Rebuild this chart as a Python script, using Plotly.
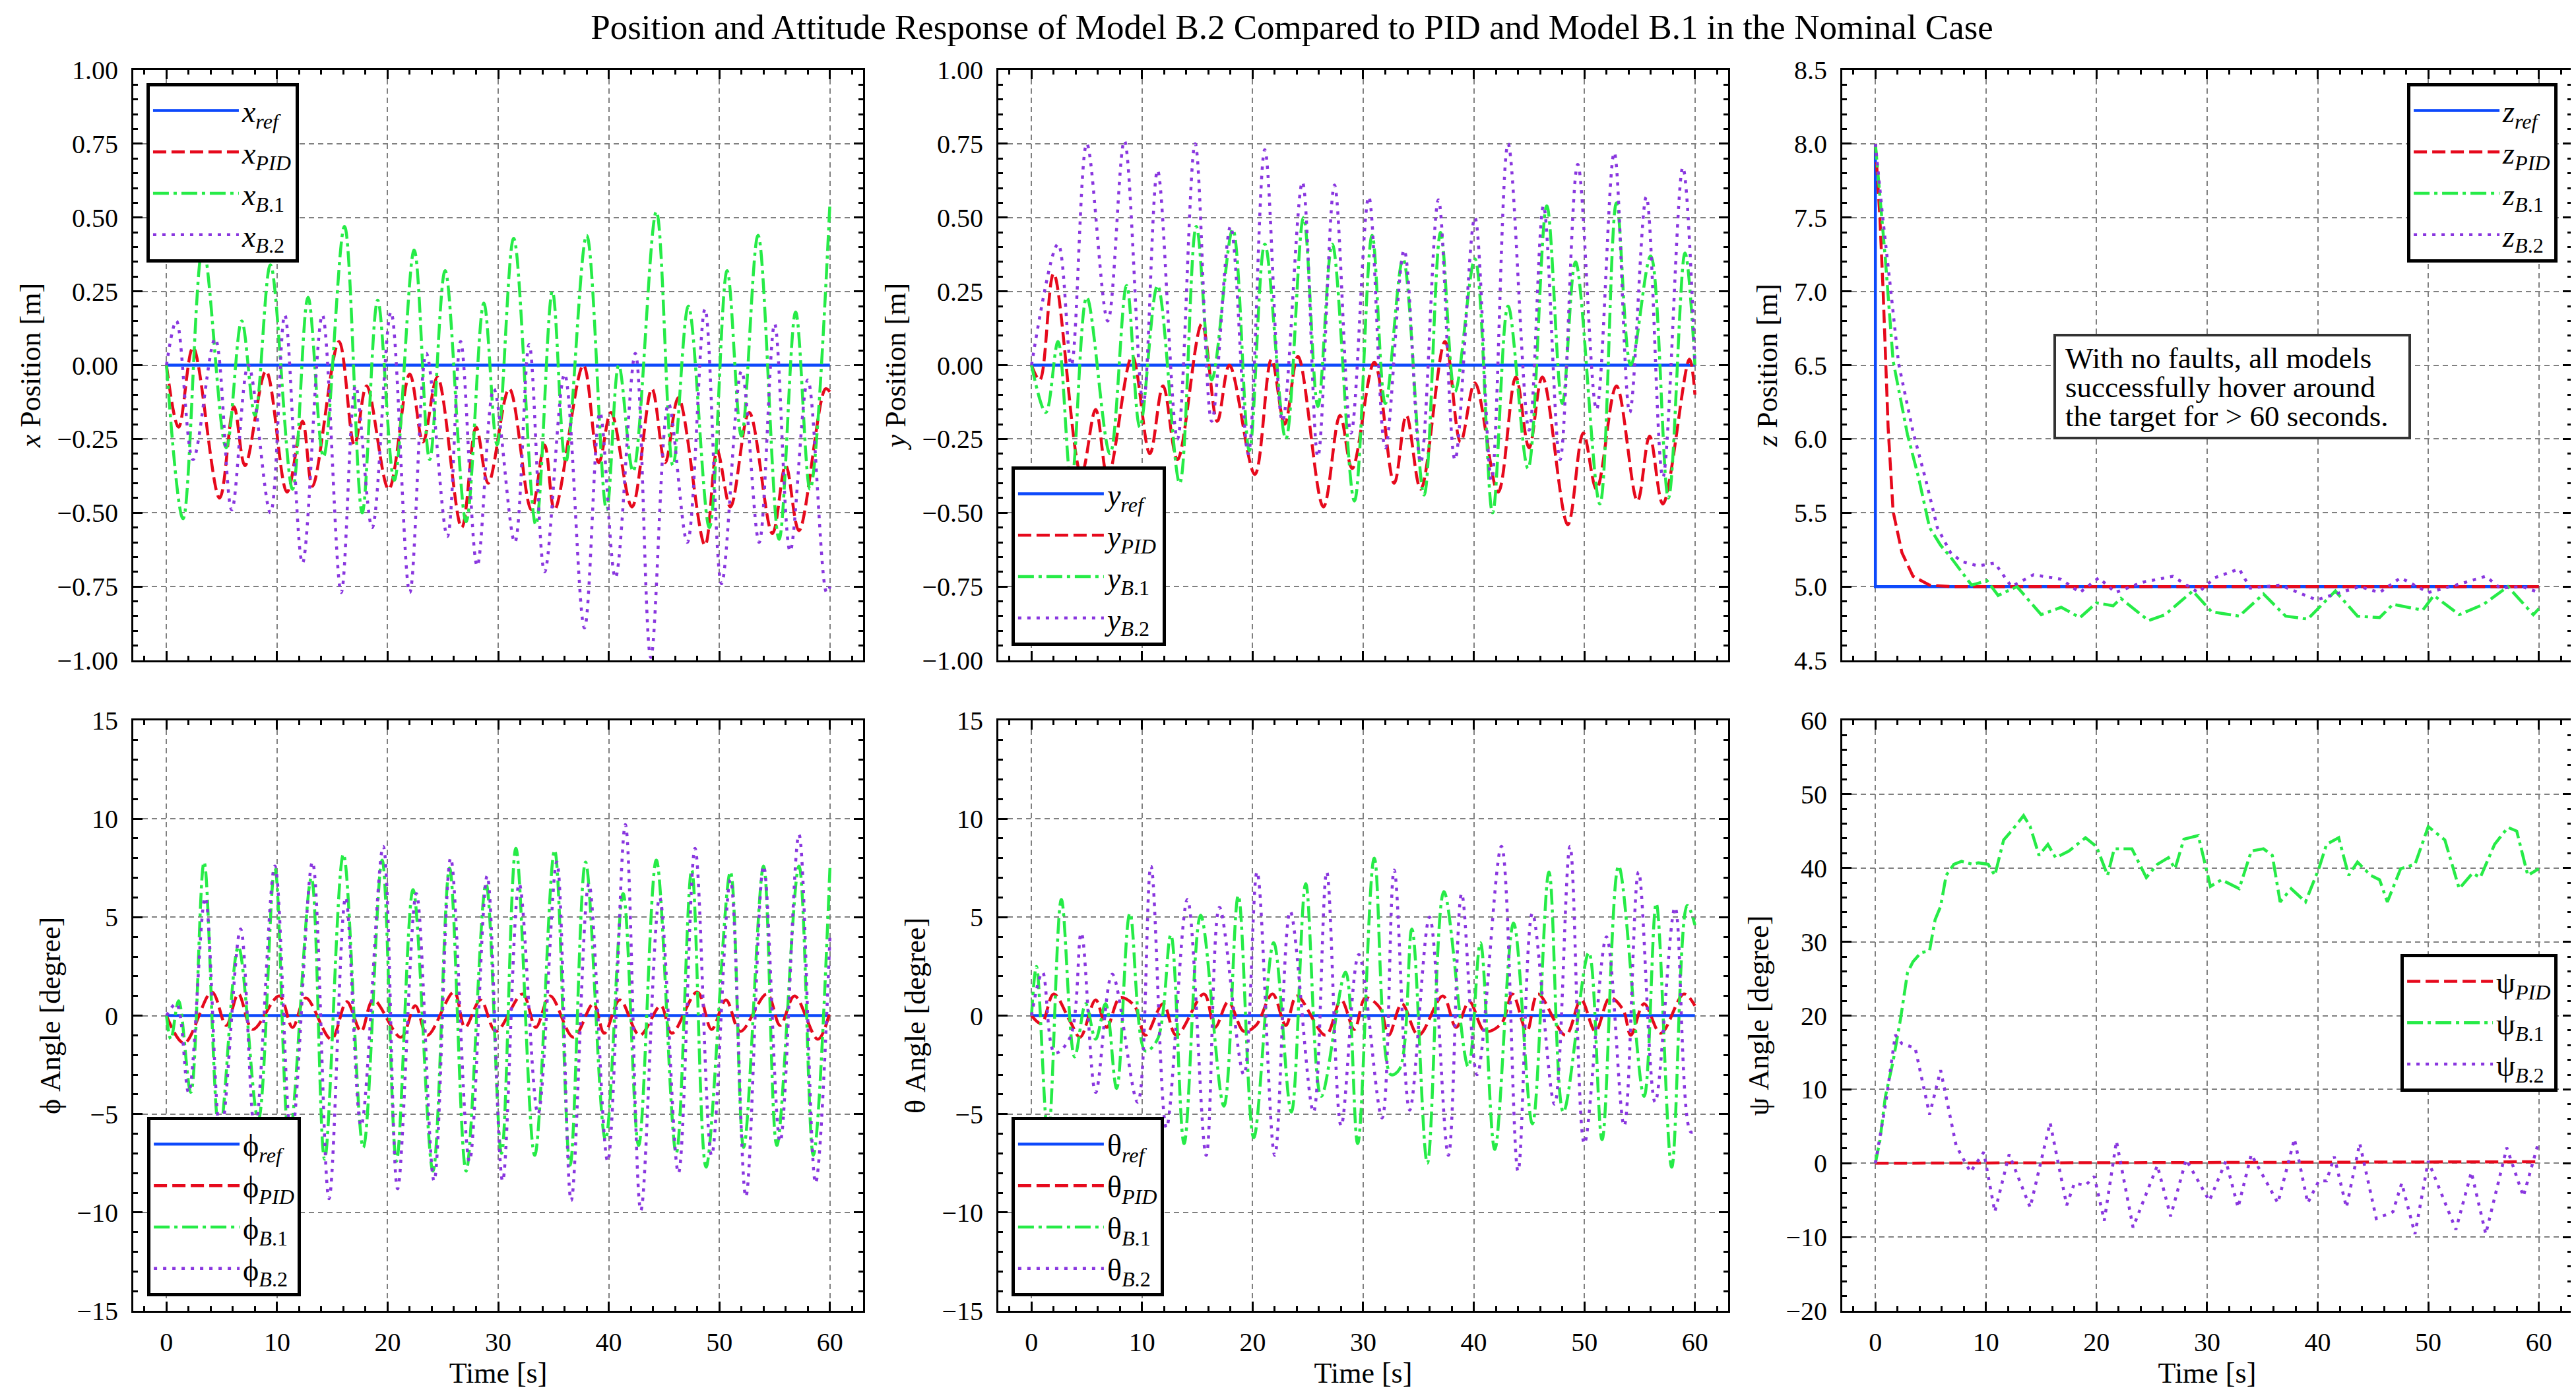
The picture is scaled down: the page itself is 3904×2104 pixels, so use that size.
import plotly.graph_objects as go
from plotly.subplots import make_subplots

# values, as (time [s], value) pairs
x_ref = [(0, 0.0), (60, 0.0)]
x_pid = [(0, 0), (1.1, -0.21), (2.4, 0.06), (4.8, -0.45), (6.1, -0.14), (7.1, -0.34), (9.0, -0.02),
         (10.9, -0.43), (12.3, -0.19), (13.2, -0.41), (15.6, 0.08), (17.0, -0.27), (18.1, -0.07),
         (20.1, -0.42), (22.0, -0.03), (23.2, -0.26), (24.5, -0.04), (26.7, -0.55), (28.0, -0.21),
         (29.1, -0.40), (31.0, -0.08), (33.0, -0.49), (34.2, -0.27), (35.1, -0.49), (37.7, 0.00),
         (39.1, -0.33), (40.2, -0.16), (42.1, -0.48), (43.9, -0.08), (45.1, -0.33), (46.3, -0.11),
         (48.7, -0.61), (49.8, -0.29), (51.0, -0.48), (52.7, -0.16), (54.8, -0.57), (56.0, -0.34),
         (57.2, -0.56), (59.6, -0.08), (60, -0.09)]
x_b1 = [(0, 0), (1.5, -0.52), (3.3, 0.40), (5.4, -0.28), (6.8, 0.15), (8.0, -0.17), (9.4, 0.34),
        (11.4, -0.42), (12.8, 0.23), (14.2, -0.31), (16.1, 0.47), (17.7, -0.50), (19.1, 0.22),
        (20.6, -0.39), (22.4, 0.39), (23.8, -0.32), (25.2, 0.32), (27.1, -0.53), (28.7, 0.21),
        (29.9, -0.27), (31.4, 0.43), (33.4, -0.54), (34.9, 0.25), (36.1, -0.33), (38.0, 0.44),
        (39.8, -0.49), (40.9, 0.00), (42.2, -0.36), (44.3, 0.52), (45.8, -0.34), (47.2, 0.20),
        (49.1, -0.55), (50.7, 0.32), (52.0, -0.24), (53.5, 0.44), (55.4, -0.59), (56.9, 0.18),
        (58.2, -0.42), (60, 0.55)]
x_b2 = [(0, 0), (0.9, 0.15), (2.4, -0.32), (4.4, 0.09), (5.9, -0.49), (7.4, 0.00), (9.4, -0.50),
        (10.7, 0.17), (12.3, -0.67), (14.1, 0.17), (15.8, -0.77), (17.1, -0.07), (18.6, -0.55),
        (20.3, 0.18), (22.0, -0.77), (23.5, 0.04), (25.4, -0.58), (26.6, 0.08), (28.1, -0.68),
        (29.6, -0.08), (31.5, -0.60), (32.8, 0.07), (34.2, -0.70), (36.0, -0.03), (37.8, -0.89),
        (39.2, -0.16), (40.6, -0.72), (42.4, 0.04), (43.8, -0.99), (45.4, -0.13), (47.1, -0.60),
        (48.7, 0.19), (50.2, -0.74), (52.0, -0.02), (53.6, -0.60), (55.0, 0.14), (56.4, -0.63),
        (58.0, -0.05), (59.7, -0.77), (60, -0.75)]

y_ref = [(0, 0.0), (60, 0.0)]
y_pid = [(0, 0), (0.75, -0.05), (2.0, 0.31), (4.5, -0.37), (5.8, -0.15), (6.9, -0.38), (9.1, 0.03),
         (10.7, -0.30), (11.9, -0.07), (13.2, -0.32), (15.4, 0.14), (16.8, -0.19), (17.9, 0.00),
         (20.2, -0.37), (21.7, 0.02), (22.9, -0.20), (24.1, 0.03), (26.4, -0.48), (27.9, -0.17),
         (29.0, -0.35), (31.0, 0.01), (32.8, -0.40), (33.9, -0.17), (35.2, -0.42), (37.4, 0.08),
         (38.8, -0.26), (40.1, -0.06), (42.2, -0.43), (43.8, -0.04), (45.0, -0.28), (46.2, -0.04),
         (48.5, -0.54), (49.9, -0.23), (51.1, -0.42), (52.9, -0.07), (54.8, -0.46), (55.9, -0.24),
         (57.1, -0.47), (59.5, 0.02), (60, -0.10)]
y_b1 = [(0, 0), (1.3, -0.16), (2.4, 0.08), (3.6, -0.40), (5.0, 0.23), (7.1, -0.30), (8.6, 0.27),
        (9.8, -0.21), (11.4, 0.27), (13.4, -0.40), (14.9, 0.47), (16.3, -0.05), (18.2, 0.46),
        (19.7, -0.29), (21.1, 0.41), (23.0, -0.25), (24.6, 0.50), (25.9, -0.14), (27.2, 0.41),
        (29.2, -0.46), (30.8, 0.44), (32.0, -0.13), (33.6, 0.36), (35.5, -0.44), (37.0, 0.45),
        (38.3, -0.09), (40.1, 0.36), (41.7, -0.50), (43.1, 0.20), (44.9, -0.35), (46.6, 0.54),
        (48.0, -0.13), (49.2, 0.35), (51.4, -0.47), (52.9, 0.55), (54.2, 0.00), (56.0, 0.37),
        (57.6, -0.45), (59.1, 0.38), (60, 0.0)]
y_b2 = [(0, 0), (2.4, 0.41), (3.6, 0.00), (5.0, 0.75), (6.9, 0.15), (8.4, 0.76), (10.1, -0.13),
        (11.4, 0.66), (13.2, -0.25), (14.8, 0.75), (16.3, -0.19), (18.0, 0.47), (19.6, -0.30),
        (21.1, 0.73), (22.7, -0.19), (24.5, 0.62), (25.9, -0.31), (27.4, 0.61), (28.9, -0.23),
        (30.5, 0.57), (32.0, -0.28), (33.7, 0.39), (35.2, -0.33), (36.8, 0.56), (38.3, -0.32),
        (40.1, 0.50), (41.6, -0.39), (43.1, 0.75), (45.0, -0.22), (46.3, 0.54), (47.8, -0.32),
        (49.4, 0.68), (51.1, -0.15), (52.7, 0.72), (54.1, -0.16), (55.6, 0.57), (57.1, -0.38),
        (58.9, 0.67), (60, 0.0)]

z_ref = [(0, 8.0), (0, 5.0), (60, 5.0)]
z_pid = [(0, 8.0), (0.4, 7.51), (0.7, 7.0), (1.15, 6.08), (1.6, 5.51), (2.4, 5.23), (3.4, 5.07),
         (4.9, 5.01), (6.8, 5.0), (60, 5.0)]
z_b1 = [(0, 8.0), (0.9, 7.22), (1.6, 6.53), (2.9, 6.03), (3.9, 5.74), (4.9, 5.40), (5.9, 5.28),
        (6.8, 5.20), (7.8, 5.10), (8.7, 5.01), (10.1, 5.04), (11.1, 4.94), (12.8, 5.0), (15.0, 4.81),
        (16.8, 4.86), (18.5, 4.79), (20.0, 4.89), (21.5, 4.87), (22.2, 4.92), (24.7, 4.77),
        (26.2, 4.81), (28.7, 4.97), (30.4, 4.83), (32.9, 4.80), (35.1, 4.95), (37.1, 4.80),
        (39.1, 4.78), (41.6, 4.97), (43.6, 4.80), (45.6, 4.79), (46.8, 4.88), (49.5, 4.84),
        (50.5, 4.94), (52.8, 4.81), (55.0, 4.88), (57.2, 5.0), (59.5, 4.81), (60, 4.85)]
z_b2 = [(0, 8.0), (0.65, 7.51), (1.4, 7.0), (2.1, 6.51), (3.4, 6.05), (4.6, 5.71), (5.6, 5.40),
        (6.8, 5.23), (7.8, 5.17), (9.3, 5.14), (10.8, 5.16), (12.3, 5.0), (14.3, 5.08), (16.8, 5.05),
        (18.5, 4.96), (20.2, 5.06), (21.7, 4.96), (24.2, 5.03), (26.9, 5.07), (29.2, 4.96),
        (30.7, 5.06), (32.9, 5.12), (33.9, 4.99), (36.6, 5.01), (39.9, 4.91), (42.1, 4.96),
        (43.8, 5.0), (45.6, 4.96), (47.5, 5.06), (50.0, 4.96), (52.5, 5.01), (55.2, 5.07),
        (56.5, 4.99), (58.5, 5.0), (60, 4.96)]

phi_ref = [(0, 0.0), (60, 0.0)]
phi_pid = [(0, 0), (1.6, -1.4), (4.1, 1.2), (5.4, -0.5), (6.5, 1.1), (7.8, -0.7), (10.2, 1.0),
           (11.4, -0.6), (12.6, 0.9), (14.9, -1.2), (16.3, 0.7), (17.6, -0.8), (18.7, 0.8),
           (21.2, -1.1), (22.5, 0.5), (23.6, -1.0), (26.0, 1.2), (27.0, -0.6), (28.4, 0.8),
           (29.8, -0.8), (32.2, 1.1), (33.4, -0.6), (34.7, 1.0), (36.8, -1.1), (38.6, 0.6),
           (39.6, -0.9), (41.0, 0.8), (42.8, -1.0), (44.7, 0.5), (45.7, -0.9), (48.0, 1.2),
           (49.3, -0.7), (50.6, 0.8), (51.9, -0.8), (54.3, 1.1), (55.5, -0.5), (56.8, 1.0),
           (58.9, -1.2), (60, 0.2)]
phi_b1 = [(0, 0), (0.4, -1.2), (1.1, 0.75), (2.2, -3.9), (3.4, 7.8), (4.8, -6.0), (6.5, 3.5),
          (8.3, -5.3), (9.8, 7.5), (11.1, -6.3), (13.1, 7.0), (14.3, -7.3), (16.0, 8.2), (17.8, -6.7),
          (19.5, 7.9), (20.8, -7.4), (22.3, 6.4), (24.1, -7.9), (25.6, 7.5), (27.1, -7.9), (28.9, 6.7),
          (30.3, -7.0), (31.6, 8.5), (33.3, -7.1), (35.1, 8.4), (36.5, -7.6), (37.9, 7.8), (39.7, -6.3),
          (41.3, 6.2), (42.7, -6.6), (44.3, 7.9), (46.1, -7.0), (47.5, 7.4), (48.8, -7.7), (51.0, 7.3),
          (52.2, -6.7), (54.0, 7.6), (55.2, -6.6), (57.2, 7.6), (58.5, -7.1), (60, 7.5)]
phi_b2 = [(0, 0), (0.9, 0.6), (2.0, -3.9), (3.5, 6.0), (4.9, -6.1), (6.7, 4.4), (8.0, -5.9),
          (9.8, 7.6), (11.3, -6.2), (13.2, 7.8), (14.7, -9.3), (16.2, 6.0), (17.6, -5.6), (19.6, 8.6),
          (20.9, -8.8), (22.6, 6.2), (24.2, -8.4), (25.7, 8.0), (27.4, -7.4), (29.0, 7.1), (30.4, -8.4),
          (31.9, 6.7), (33.6, -5.0), (35.3, 7.8), (36.6, -9.4), (38.2, 6.7), (39.9, -7.4), (41.5, 9.7),
          (42.9, -9.9), (44.6, 6.0), (46.3, -8.0), (47.8, 8.5), (49.3, -7.1), (51.0, 6.9), (52.4, -9.2),
          (54.0, 7.6), (55.5, -6.4), (57.2, 9.2), (58.7, -8.5), (60, 4.0)]

theta_ref = [(0, 0.0), (60, 0.0)]
theta_pid = [(0, 0), (0.9, -0.4), (2.0, 1.1), (3.5, -0.3), (4.4, -1.1), (5.8, 0.8), (6.8, -0.6),
             (8.0, 0.9), (9.3, 0.5), (10.3, -1.0), (11.9, 0.6), (13.1, -1.0), (15.6, 1.1), (16.6, -0.6),
             (17.8, 0.7), (19.2, -0.8), (20.3, -0.5), (21.8, 1.1), (23.0, -0.5), (24.0, 1.0),
             (26.6, -1.0), (28.0, 0.8), (29.2, -0.7), (30.2, 0.9), (31.5, 0.4), (32.3, -1.0),
             (33.5, 0.6), (35.0, -1.0), (37.2, 1.0), (38.4, -0.6), (39.6, 0.7), (41.0, -0.8),
             (42.5, -0.4), (43.5, 1.1), (44.8, -0.8), (45.8, 1.1), (48.3, -1.0), (49.7, 0.8),
             (51.0, -0.8), (52.3, 0.9), (53.5, 0.3), (54.2, -1.0), (55.4, 0.6), (56.9, -0.9),
             (59.0, 1.1), (60, 0.5)]
theta_b1 = [(0, 0), (0.45, 2.5), (1.5, -6.2), (2.7, 5.9), (3.9, -2.1), (4.9, 0.6), (5.8, -1.2),
            (6.7, 0.6), (7.7, -3.7), (8.9, 5.2), (10.3, -1.8), (11.4, -1.2), (12.6, 4.1), (13.8, -6.5),
            (15.3, 5.1), (17.4, -4.6), (18.7, 6.1), (20.1, -6.2), (21.9, 3.7), (23.5, -4.9), (24.8, 6.7),
            (26.2, -4.1), (28.4, 2.2), (29.5, -6.5), (31.0, 8.0), (32.5, -3.0), (33.3, -2.7), (34.4, 4.4),
            (35.8, -7.5), (37.3, 6.3), (39.5, -2.6), (40.6, 3.7), (41.9, -6.8), (43.6, 4.7), (45.3, -5.5),
            (46.8, 7.3), (48.1, -4.9), (50.4, 3.2), (51.6, -6.3), (53.1, 7.6), (55.4, -4.1), (56.5, 5.7),
            (57.9, -7.7), (59.3, 5.6), (60, 4.6)]
theta_b2 = [(0, 0), (1.0, 2.2), (2.1, -1.9), (3.5, -1.1), (4.5, 4.2), (5.8, -3.9), (7.3, 2.1),
            (9.6, -4.4), (10.8, 7.6), (12.2, -5.7), (14.1, 5.9), (15.8, -7.1), (17.0, 5.5), (19.2, -3.0),
            (20.4, 7.3), (22.0, -7.1), (23.4, 5.3), (25.5, -4.9), (26.7, 7.3), (28.0, -5.6), (29.6, 3.1),
            (31.7, -5.2), (32.8, 7.4), (34.2, -4.8), (36.0, 5.0), (37.7, -7.1), (38.9, 6.2), (40.3, -3.0),
            (42.5, 8.6), (44.0, -7.9), (45.3, 5.2), (47.3, -4.5), (48.7, 8.6), (50.0, -6.5), (52.0, 4.0),
            (53.6, -5.6), (54.9, 7.3), (56.4, -4.4), (58.2, 5.5), (59.6, -5.9), (60, -5.9)]

psi_pid = [(0, 0.0), (30, 0.1), (60, 0.2)]
psi_b1 = [(0, 0), (0.4, 3.0), (0.9, 9.0), (1.6, 13.8), (2.3, 19.8), (2.9, 25.8), (3.4, 27.3),
          (4.1, 28.5), (4.9, 28.8), (5.4, 33.0), (5.9, 34.8), (6.4, 39.0), (7.1, 40.5), (7.8, 40.9),
          (8.8, 40.5), (9.3, 40.7), (10.2, 40.5), (10.8, 39.0), (11.6, 43.8), (12.3, 45.0), (13.4, 47.1),
          (14.0, 45.6), (14.8, 41.7), (15.6, 43.2), (16.3, 41.4), (17.5, 42.3), (19.0, 44.1),
          (20.0, 42.9), (21.0, 39.0), (21.6, 42.6), (23.2, 42.6), (24.5, 38.7), (25.5, 40.5),
          (26.5, 41.4), (27.1, 39.9), (27.9, 43.9), (29.2, 44.4), (30.3, 37.5), (31.3, 38.4),
          (32.9, 37.2), (34.0, 42.3), (35.1, 42.6), (35.9, 41.7), (36.6, 35.4), (37.6, 37.2),
          (38.9, 35.4), (40.1, 39.9), (40.8, 43.2), (41.9, 44.1), (42.8, 39.0), (43.6, 40.8),
          (44.8, 39.0), (45.6, 38.4), (46.3, 35.4), (47.5, 39.9), (48.8, 40.5), (50.0, 45.6),
          (51.5, 43.8), (52.8, 37.2), (54.0, 39.3), (54.7, 38.7), (56.0, 43.2), (57.2, 45.5),
          (58.0, 45.0), (59.0, 39.0), (60, 39.9)]
psi_b2 = [(0, 0), (0.9, 7.8), (1.8, 17.4), (2.4, 16.2), (3.6, 15.6), (4.9, 6.6), (5.9, 12.6),
          (7.3, 2.4), (8.6, -1.2), (9.8, 1.5), (10.8, -6.6), (12.1, 1.2), (14.0, -6.0), (15.8, 5.5),
          (17.3, -5.7), (18.0, -2.7), (19.0, -3.0), (19.8, -1.8), (20.7, -7.8), (21.8, 3.0),
          (23.3, -8.7), (25.5, -0.3), (26.7, -7.2), (28.1, 0.5), (30.2, -5.1), (31.7, 0.3),
          (32.8, -6.0), (34.0, 1.2), (36.4, -5.4), (37.9, 3.3), (39.1, -5.4), (40.1, -2.4),
          (40.8, -2.4), (41.5, 0.9), (42.6, -6.0), (43.8, 2.7), (45.3, -7.5), (46.8, -6.6),
          (47.6, -2.7), (48.8, -9.6), (50.0, 0.3), (52.5, -9.0), (53.9, -1.2), (55.2, -9.6),
          (57.1, 2.1), (58.6, -4.5), (60, 3.0)]

note_lines = ['With no faults, all models', 'successfully hover around', 'the target for > 60 seconds.']

# 'high-vis' look: colour and dash per model
COLORS = {'ref': '#0d49fb', 'PID': '#e6091c', 'B.1': '#26eb47', 'B.2': '#8936df'}
DASHES = {'ref': 'solid', 'PID': '20px,8px', 'B.1': '24px,7px,5px,7px', 'B.2': '5px,9px'}
SUBS = {'ref': '<i>ref</i>', 'PID': '<i>PID</i>', 'B.1': '<i>B</i>.1', 'B.2': '<i>B</i>.2'}

panels = [
    dict(sym='<i>x</i>', ytitle='<i>x</i> Position [m]',
         data={'ref': x_ref, 'PID': x_pid, 'B.1': x_b1, 'B.2': x_b2},
         yrange=[-1, 1], dtick=0.25, minor=0.05, fmt='.2f', shape='spline',
         legend=dict(x=0.0548, y=0.9439, xanchor='left', yanchor='top')),
    dict(sym='<i>y</i>', ytitle='<i>y</i> Position [m]',
         data={'ref': y_ref, 'PID': y_pid, 'B.1': y_b1, 'B.2': y_b2},
         yrange=[-1, 1], dtick=0.25, minor=0.05, fmt='.2f', shape='spline',
         legend=dict(x=0.3906, y=0.5385, xanchor='left', yanchor='bottom')),
    dict(sym='<i>z</i>', ytitle='<i>z</i> Position [m]',
         data={'ref': z_ref, 'PID': z_pid, 'B.1': z_b1, 'B.2': z_b2},
         yrange=[4.5, 8.5], dtick=0.5, minor=0.1, fmt='.1f', shape='linear',
         legend=dict(x=0.9908, y=0.9439, xanchor='right', yanchor='top')),
    dict(sym='ϕ', ytitle='ϕ Angle [degree]',
         data={'ref': phi_ref, 'PID': phi_pid, 'B.1': phi_b1, 'B.2': phi_b2},
         yrange=[-15, 15], dtick=5, minor=1, fmt='d', shape='spline',
         legend=dict(x=0.0551, y=0.0699, xanchor='left', yanchor='bottom')),
    dict(sym='θ', ytitle='θ Angle [degree]',
         data={'ref': theta_ref, 'PID': theta_pid, 'B.1': theta_b1, 'B.2': theta_b2},
         yrange=[-15, 15], dtick=5, minor=1, fmt='d', shape='spline',
         legend=dict(x=0.3906, y=0.0699, xanchor='left', yanchor='bottom')),
    dict(sym='ψ', ytitle='ψ Angle [degree]',
         data={'PID': psi_pid, 'B.1': psi_b1, 'B.2': psi_b2},
         yrange=[-20, 60], dtick=10, minor=2, fmt='d', shape='linear',
         legend=dict(x=0.9908, y=0.3165, xanchor='right', yanchor='top')),
]

W, H = 3904, 2104
XDOM = [[0.0497, 0.3330], [0.3855, 0.6688], [0.7131, 0.9964]]
YDOM = [[0.5280, 0.9534], [0.0594, 0.4848]]
FONT = 'Liberation Serif'

fig = make_subplots(rows=2, cols=3)

for k, p in enumerate(panels):
    row, col = k // 3 + 1, k % 3 + 1
    leg = 'legend' if k == 0 else f'legend{k + 1}'
    for key, pts in p['data'].items():
        t = [a for a, _ in pts]
        v = [b for _, b in pts]
        shape = 'linear' if key == 'ref' else p['shape']
        fig.add_trace(go.Scatter(
            x=t, y=v, mode='lines', name=p['sym'] + '<sub>' + SUBS[key] + '</sub>',
            line=dict(color=COLORS[key], width=4.5, dash=DASHES[key], shape=shape),
            legend=leg, showlegend=True), row=row, col=col)

    axis_common = dict(
        showline=True, linecolor='black', linewidth=3, mirror='allticks',
        ticks='inside', ticklen=14, tickwidth=3, tickcolor='black',
        showgrid=True, gridcolor='#808080', gridwidth=2, griddash='8px,6px',
        zeroline=False, automargin=False,
        tickfont=dict(family=FONT, size=40, color='black'),
        title_font=dict(family=FONT, size=44, color='black'),
    )
    fig.update_xaxes(
        range=[-3, 63], tick0=0, dtick=10, domain=XDOM[col - 1],
        minor=dict(dtick=2, ticks='inside', ticklen=7, tickwidth=2.5, tickcolor='black', showgrid=False),
        showticklabels=(row == 2), ticklabelstandoff=10,
        title=dict(text='Time [s]' if row == 2 else None, standoff=8),
        row=row, col=col, **axis_common)
    fig.update_yaxes(
        range=p['yrange'], tick0=p['yrange'][0], dtick=p['dtick'], domain=YDOM[row - 1],
        tickformat=p['fmt'],
        minor=dict(dtick=p['minor'], ticks='inside', ticklen=7, tickwidth=2.5, tickcolor='black', showgrid=False),
        ticklabelstandoff=12,
        title=dict(text=p['ytitle'], standoff=12),
        row=row, col=col, **axis_common)

    fig.layout[leg] = dict(
        **p['legend'], bgcolor='white', bordercolor='black', borderwidth=5,
        font=dict(family=FONT, size=46, color='black'), itemwidth=130, tracegroupgap=0)

# text box in the z panel: white box with one annotation per line
fig.add_shape(type='rect', xref='paper', yref='paper',
              x0=3106 / W, x1=3644 / W, y0=1 - 656 / H, y1=1 - 500 / H,
              line=dict(color='#333333', width=4), fillcolor='white', layer='above')
for i, line_text in enumerate(note_lines):
    fig.add_annotation(
        xref='paper', yref='paper', x=3120 / W, y=1 - (535 + 44 * i) / H,
        xanchor='left', yanchor='middle', text=line_text, showarrow=False,
        font=dict(family=FONT, size=45, color='black'))

fig.update_layout(
    width=W, height=H,
    margin=dict(l=0, r=0, t=0, b=0),
    paper_bgcolor='white', plot_bgcolor='white',
    font=dict(family=FONT, color='black'),
    title=dict(text='Position and Attitude Response of Model B.2 Compared to PID and Model B.1 in the Nominal Case',
               x=0.4995, xanchor='center', y=0.9848, yanchor='middle',
               font=dict(family=FONT, size=53, color='black')),
)

fig.write_html("out.html")
